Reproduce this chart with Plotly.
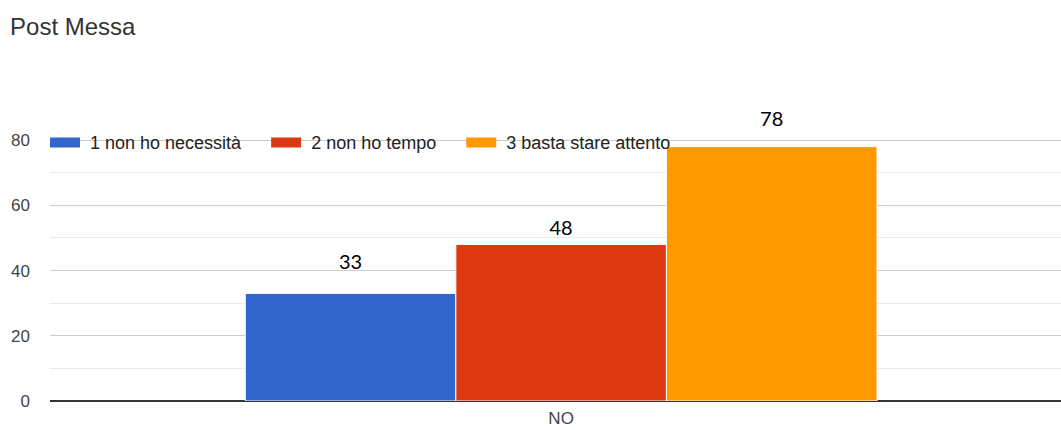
import plotly.graph_objects as go

# Survey answers for "Post Messa"
categories = ["NO"]
series_names = ["1 non ho necessità", "2 non ho tempo", "3 basta stare attento"]
series_values = [[33], [48], [78]]
series_colors = ["#3366cc", "#dc3912", "#ff9900"]
y_ticks = [0, 20, 40, 60, 80]

# extra lift (in axis units) for each value label above its bar
label_lift = [5.8, 1.5, 4.9]

BAR_GAP = 0.382
NBSP = "\u00a0"

fig = go.Figure()
for i, (name, vals, col) in enumerate(zip(series_names, series_values, series_colors)):
    fig.add_trace(go.Bar(
        x=categories, y=vals, name=name, showlegend=False,
        offsetgroup=str(i), alignmentgroup="a",
        marker=dict(color=col, line=dict(color="white", width=1)),
    ))

# value labels, grouped the same way as the bars
for i, (vals, lift) in enumerate(zip(series_values, label_lift)):
    fig.add_trace(go.Scatter(
        x=categories, y=[v + lift for v in vals], mode="text",
        text=[str(v) for v in vals], textposition="top center",
        textfont=dict(family="Lato, Open Sans, sans-serif", size=20, color="#000000"),
        offsetgroup=str(i), alignmentgroup="a", showlegend=False,
        cliponaxis=False, hoverinfo="skip",
    ))

# legend entries drawn as wide colour swatches, padded for spacing
for name, col in zip(series_names, series_colors):
    fig.add_trace(go.Scatter(
        x=[None], y=[None], mode="lines", name=NBSP + name + NBSP * 5,
        line=dict(color=col, width=16),
    ))

fig.update_layout(
    width=1061, height=430,
    margin=dict(l=50, r=0, t=114, b=29),
    paper_bgcolor="white", plot_bgcolor="white",
    barmode="group", bargap=BAR_GAP, bargroupgap=0,
    scattermode="group", scattergap=BAR_GAP,
    title=dict(text="Post Messa", x=0.0095, xanchor="left", y=0.937, yanchor="middle",
               font=dict(family="Arial, Liberation Sans, sans-serif", size=24, color="#333333")),
    font=dict(family="Arial, Liberation Sans, sans-serif", size=17, color="#444444"),
    legend=dict(orientation="h", x=0, xanchor="left", y=0.9, yanchor="middle",
                indentation=-5,
                bgcolor="rgba(0,0,0,0)", font=dict(size=18, color="#222222"),
                itemwidth=30, traceorder="normal"),
    showlegend=True,
)
fig.update_xaxes(range=[-0.5, 0.489], showgrid=False, showline=False, ticks="",
                 automargin=False, ticklabelstandoff=5,
                 tickfont=dict(size=17, color="#444444"))
fig.update_yaxes(
    range=[0, 88], tickvals=y_ticks, showgrid=True, gridcolor="#cccccc", gridwidth=1,
    zeroline=True, zerolinecolor="#333333", zerolinewidth=1.5,
    ticks="", ticklabelstandoff=19, tickfont=dict(size=17, color="#444444"),
    minor=dict(tickvals=[10, 30, 50, 70], showgrid=True, gridcolor="#ebebeb", gridwidth=1),
)

fig.write_html("out.html")
